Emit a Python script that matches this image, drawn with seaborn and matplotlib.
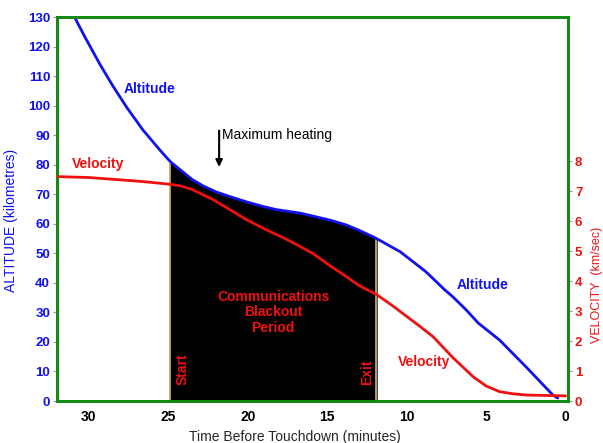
import numpy as np
import pandas as pd
import matplotlib.pyplot as plt
import seaborn as sns

# data (minutes before touchdown)
alt_time = [30.9, 30.2, 29.3, 28.5, 27.6, 26.6, 25.5, 25.0, 24.8, 23.5, 22.8, 22.0,
            20.9, 20.0, 19.0, 18.2, 17.2, 16.7, 15.9, 14.8, 13.8, 13.0, 12.0, 10.4,
            8.8, 7.6, 7.1, 6.25, 5.5, 4.15, 2.5, 0.8, 0.5]
altitude = [130, 122.8, 114.0, 106.8, 99.3, 91.8, 84.8, 81.8, 80.7, 75.0, 72.8, 70.8,
            68.8, 67.3, 65.8, 64.8, 64.0, 63.6, 62.6, 61.2, 59.6, 57.8, 55.3, 50.5,
            43.8, 37.6, 35.3, 30.8, 26.4, 20.6, 11.6, 2.0, 1.0]

vel_time = [32.0, 30.0, 28.2, 26.5, 25.0, 24.3, 23.5, 22.2, 21.1, 20.1, 18.8, 17.6,
            16.7, 15.9, 14.8, 13.8, 13.0, 11.9, 10.9, 10.4, 9.2, 8.35, 7.1, 6.2,
            5.8, 5.0, 4.15, 3.3, 2.5, 0.0]
velocity = [7.48, 7.45, 7.38, 7.31, 7.23, 7.18, 7.05, 6.72, 6.37, 6.05, 5.7, 5.4,
            5.15, 4.92, 4.5, 4.15, 3.85, 3.55, 3.18, 2.98, 2.5, 2.15, 1.45, 1.0,
            0.8, 0.5, 0.31, 0.24, 0.2, 0.17]

blackout = [24.9, 11.9]  # start, exit
max_heating = 21.8

alt_ticks = list(range(0, 131, 10))
vel_ticks = list(range(0, 9))
time_ticks = [30, 25, 20, 15, 10, 5, 0]

df_alt = pd.DataFrame({'time': alt_time, 'alt': altitude})
df_vel = pd.DataFrame({'time': vel_time, 'vel': velocity})

sns.set_style("white")
plt.rcParams['font.family'] = ['Liberation Sans', 'DejaVu Sans']

BLUE = '#1010f0'
RED = '#f01010'
GREEN = '#138a13'

fig = plt.figure(figsize=(6.03, 4.43), dpi=100)
ax = fig.add_axes([0.0945, 0.0948, 0.8475, 0.8668])
ax2 = ax.twinx()

# black blackout area under the altitude curve
edge_h = np.interp(blackout, alt_time[::-1], altitude[::-1])
inside = (df_alt['time'] < blackout[0]) & (df_alt['time'] > blackout[1])
fill_t = [blackout[0]] + list(df_alt['time'][inside]) + [blackout[1]]
fill_a = [edge_h[0]] + list(df_alt['alt'][inside]) + [edge_h[1]]
ax.fill_between(fill_t, 0, fill_a, color='black', zorder=1)
ax.vlines(blackout, 0, edge_h, color='#d8b070', lw=1.2, zorder=2)

sns.lineplot(data=df_alt, x='time', y='alt', ax=ax, color=BLUE, lw=2,
             estimator=None, sort=False, zorder=3)
sns.lineplot(data=df_vel, x='time', y='vel', ax=ax2, color=RED, lw=2,
             estimator=None, sort=False, zorder=3)

ax.set_xlim(32, -0.15)
ax.set_ylim(0, 130)
ax2.set_ylim(0, 12.8)

ax.set_xticks(time_ticks)
ax.set_yticks(alt_ticks)
ax2.set_yticks(vel_ticks)

ax.tick_params(axis='x', colors='black', labelsize=10, length=3, color='#999999')
ax.tick_params(axis='y', labelcolor=BLUE, labelsize=9.5, length=3, color='#999999', pad=2)
ax2.tick_params(axis='y', labelcolor=RED, labelsize=9.5, length=3, color='#999999', pad=2)
for lab in ax.get_xticklabels() + ax.get_yticklabels() + ax2.get_yticklabels():
    lab.set_fontweight('bold')

ax.set_xlabel('Time Before Touchdown (minutes)', fontsize=10)
ax.xaxis.set_label_coords(0.466, -0.075)
ax.set_ylabel('ALTITUDE (kilometres)', fontsize=10, color=BLUE)
ax.yaxis.set_label_coords(-0.076, 0.471)
ax2.set_ylabel('VELOCITY  (km/sec)', fontsize=9, color=RED)
ax2.yaxis.set_label_coords(1.045, 0.302)

for a in (ax, ax2):
    for s in a.spines.values():
        s.set_color(GREEN)
        s.set_linewidth(2)

# annotations
ax.text(26.2, 105.6, 'Altitude', color=BLUE, fontsize=10, fontweight='bold', ha='center', va='center')
ax.text(5.2, 39.3, 'Altitude', color=BLUE, fontsize=10, fontweight='bold', ha='center', va='center')
ax.text(29.4, 80.2, 'Velocity', color=RED, fontsize=10, fontweight='bold', ha='center', va='center')
ax.text(8.9, 13.2, 'Velocity', color=RED, fontsize=10, fontweight='bold', ha='center', va='center')
ax.text(18.4, 30, 'Communications\nBlackout\nPeriod', color=RED, fontsize=10, fontweight='bold',
        ha='center', va='center', linespacing=1.15, zorder=4)
ax.text(24.1, 10.8, 'Start', color=RED, fontsize=10, fontweight='bold', rotation=90,
        ha='center', va='center', zorder=4)
ax.text(12.5, 9.8, 'Exit', color=RED, fontsize=10, fontweight='bold', rotation=90,
        ha='center', va='center', zorder=4)
ax.text(max_heating - 0.2, 90, 'Maximum heating', color='black', fontsize=10,
        ha='left', va='center')
ax.annotate('', xy=(max_heating, 78.3), xytext=(max_heating, 92.5),
            arrowprops=dict(arrowstyle='-|>', color='black', lw=1.5, mutation_scale=10))

plt.savefig('out.png', dpi=100)
